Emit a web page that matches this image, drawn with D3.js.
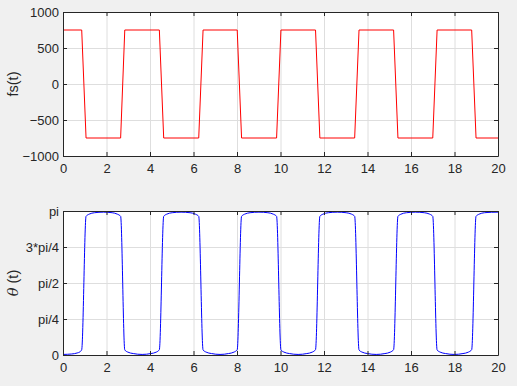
<!DOCTYPE html>
<html lang="en">
<head>
<meta charset="utf-8">
<title>fs and theta</title>
<script src="https://d3js.org/d3.v7.min.js"></script>
<style>
    body { margin: 0; background: #f0f0f0; }
    text { font-family: 'Liberation Sans', Arial, sans-serif; fill: #262626; }
    .grid line { stroke: #dedede; stroke-width: 1; }
    .grid path { display: none; }
    .ax path, .ax line { stroke: #262626; }
    .ax text { font-size: 13px; }
</style>
</head>
<body>
<div id="container"></div>
<script>
// ---- data ----
var xTicks = [0, 2, 4, 6, 8, 10, 12, 14, 16, 18, 20];

var fsTicks = [-1000, -500, 0, 500, 1000];
var fsT = [0, 0.86, 1.06, 2.65, 2.84, 4.43, 4.63, 6.24, 6.44, 8.01, 8.21, 9.82, 10.02,
           11.61, 11.81, 13.41, 13.61, 15.2, 15.4, 17.0, 17.2, 18.79, 18.99, 20];
var fsV = [750, 750, -750, -750, 750, 750, -750, -750, 750, 750, -750, -750, 750,
           750, -750, -750, 750, 750, -750, -750, 750, 750, -750, -750];

// theta in units of pi
var thTicks = [0, 0.25, 0.5, 0.75, 1];
var thTickLabels = ["0", "pi/4", "pi/2", "3*pi/4", "pi"];
var thT = [0, 0.4, 0.65, 0.78, 0.86,
    1.06, 1.2, 1.45, 1.86, 2.26, 2.5, 2.65,
    2.84, 2.98, 3.23, 3.64, 4.04, 4.29, 4.43,
    4.63, 4.77, 5.02, 5.43, 5.84, 6.09, 6.24,
    6.44, 6.58, 6.83, 7.22, 7.61, 7.86, 8.01,
    8.21, 8.35, 8.6, 9.01, 9.42, 9.67, 9.82,
    10.02, 10.16, 10.41, 10.81, 11.21, 11.46, 11.61,
    11.81, 11.95, 12.2, 12.61, 13.02, 13.27, 13.41,
    13.61, 13.75, 14.0, 14.4, 14.8, 15.05, 15.2,
    15.4, 15.54, 15.79, 16.2, 16.61, 16.86, 17.0,
    17.2, 17.34, 17.59, 17.99, 18.39, 18.64, 18.79,
    18.99, 19.13, 19.38, 19.7, 20];
var thV = [0.004, 0.007, 0.014, 0.022, 0.037,
    0.963, 0.978, 0.988, 0.992, 0.988, 0.978, 0.963,
    0.035, 0.02, 0.01, 0.004, 0.01, 0.02, 0.037,
    0.963, 0.978, 0.988, 0.992, 0.988, 0.978, 0.963,
    0.035, 0.02, 0.01, 0.004, 0.01, 0.02, 0.037,
    0.963, 0.978, 0.988, 0.992, 0.988, 0.978, 0.963,
    0.035, 0.02, 0.01, 0.004, 0.01, 0.02, 0.037,
    0.963, 0.978, 0.988, 0.992, 0.988, 0.978, 0.963,
    0.035, 0.02, 0.01, 0.004, 0.01, 0.02, 0.037,
    0.963, 0.978, 0.988, 0.992, 0.988, 0.978, 0.963,
    0.035, 0.02, 0.01, 0.004, 0.01, 0.02, 0.037,
    0.963, 0.978, 0.988, 0.991, 0.992];

var w = 517, h = 386;
var left = 63, right = 498;

var svg = d3.select("div#container")
    .append("svg")
    .attr("width", w)
    .attr("height", h)
    .style("background-color", "#f0f0f0");

function panel(top, bottom, yDomain, yTicks, yFmt, tArr, vArr, color, curve) {
    var x = d3.scaleLinear().domain([0, 20]).range([left, right]);
    var y = d3.scaleLinear().domain(yDomain).range([bottom, top]);
    var g = svg.append("g");

    g.append("rect")
        .attr("x", left).attr("y", top)
        .attr("width", right - left).attr("height", bottom - top)
        .attr("fill", "white");

    // grid
    g.append("g").attr("class", "grid")
        .attr("transform", "translate(0," + bottom + ")")
        .call(d3.axisBottom(x).tickValues(xTicks).tickSize(-(bottom - top)).tickFormat(""));
    g.append("g").attr("class", "grid")
        .attr("transform", "translate(" + left + ",0)")
        .call(d3.axisLeft(y).tickValues(yTicks).tickSize(-(right - left)).tickFormat(""));

    // line
    var pts = tArr.map(function(t, i) { return [t, vArr[i]]; });
    g.append("path")
        .datum(pts)
        .attr("fill", "none")
        .attr("stroke", color)
        .attr("stroke-width", 1)
        .attr("d", d3.line().curve(curve)
            .x(function(d) { return x(d[0]); })
            .y(function(d) { return y(d[1]); }));

    // axes (ticks pointing inward on all four sides)
    g.append("g").attr("class", "ax")
        .attr("transform", "translate(0," + bottom + ")")
        .call(d3.axisBottom(x).tickValues(xTicks).tickSizeInner(-4).tickSizeOuter(0).tickPadding(8));
    g.append("g").attr("class", "ax")
        .attr("transform", "translate(0," + top + ")")
        .call(d3.axisTop(x).tickValues(xTicks).tickSizeInner(-4).tickSizeOuter(0).tickFormat(""));
    g.append("g").attr("class", "ax")
        .attr("transform", "translate(" + left + ",0)")
        .call(d3.axisLeft(y).tickValues(yTicks).tickSizeInner(-4).tickSizeOuter(0).tickPadding(4).tickFormat(yFmt));
    g.append("g").attr("class", "ax")
        .attr("transform", "translate(" + right + ",0)")
        .call(d3.axisRight(y).tickValues(yTicks).tickSizeInner(-4).tickSizeOuter(0).tickFormat(""));

    g.selectAll(".ax .domain").attr("stroke", "#262626");
    return g;
}

// top panel: fs(t)
var g1 = panel(12, 156, [-1000, 1000], fsTicks, d3.format("d"), fsT, fsV, "#ff0000", d3.curveLinear);
g1.append("text")
    .attr("transform", "translate(18,84) rotate(-90)")
    .attr("text-anchor", "middle")
    .style("font-size", "14.5px")
    .text("fs(t)");

// bottom panel: theta(t)
var g2 = panel(211, 355, [0, 1], thTicks, function(d, i) { return thTickLabels[i]; },
    thT, thV, "#0000ff", d3.curveMonotoneX);
var lab = g2.append("text")
    .attr("transform", "translate(18,283) rotate(-90)")
    .attr("text-anchor", "middle")
    .style("font-size", "14.5px");
lab.append("tspan").style("font-style", "italic").style("font-family", "'DejaVu Serif', serif").text("\u03b8");
lab.append("tspan").text(" (t)");
</script>
</body>
</html>
